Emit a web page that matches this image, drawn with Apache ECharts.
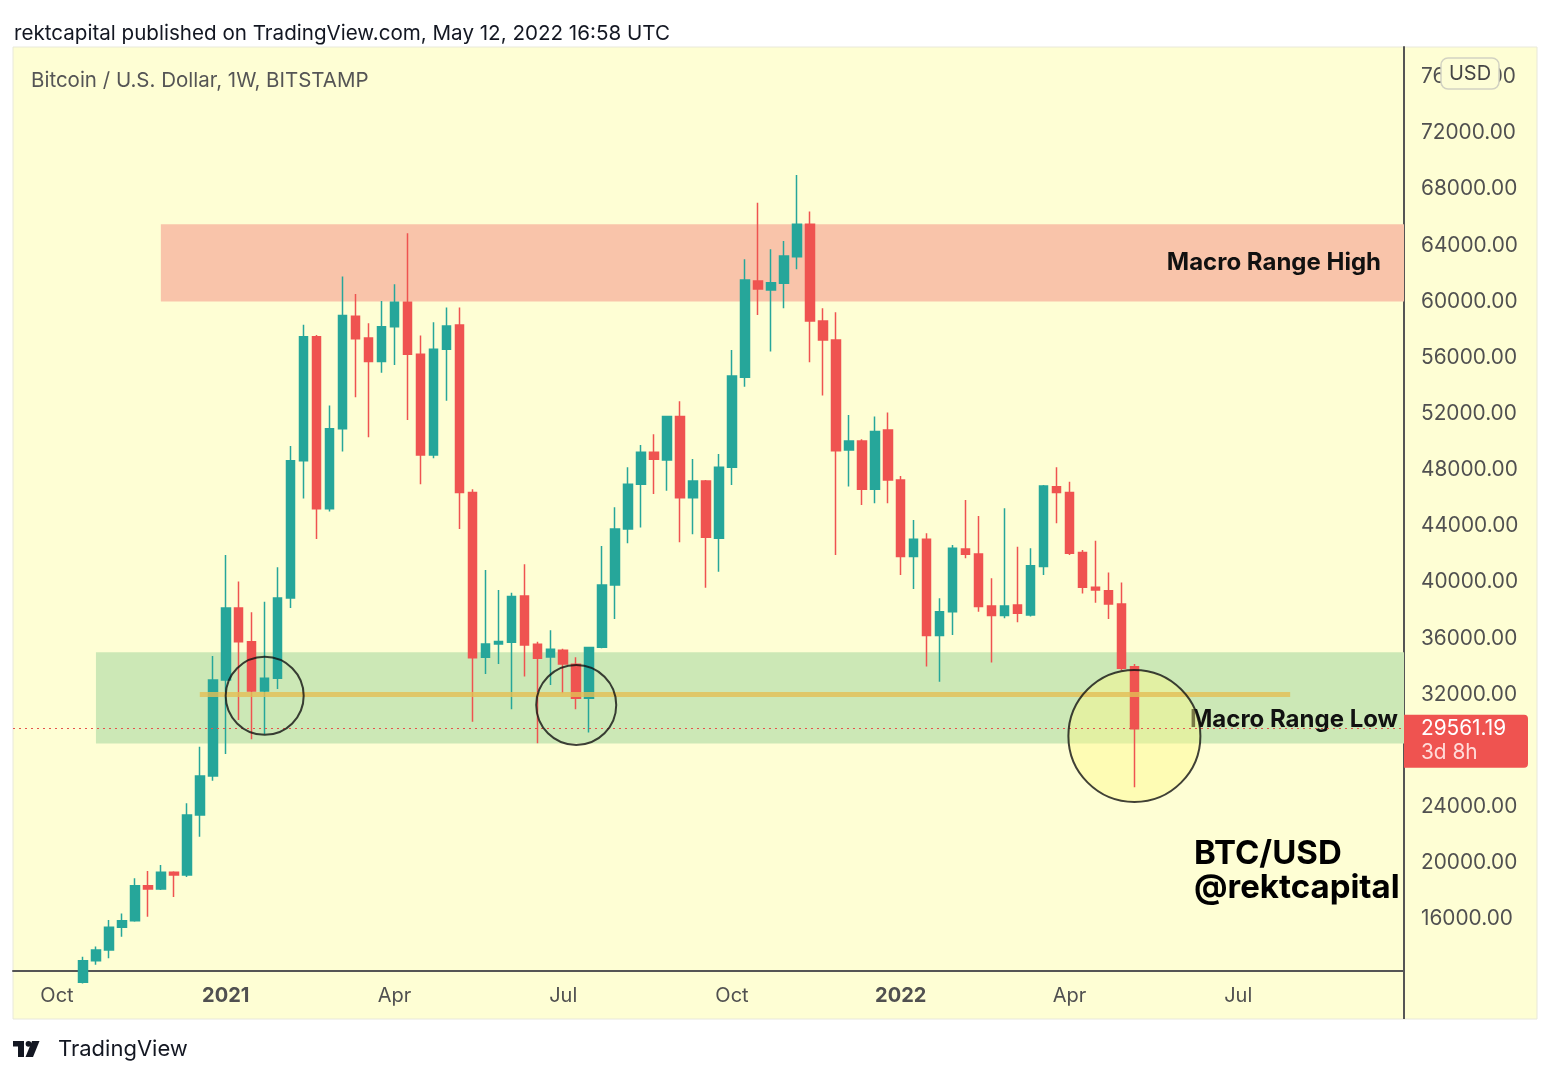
<!DOCTYPE html>
<html>
<head>
<meta charset="utf-8">
<title>Bitcoin / U.S. Dollar, 1W</title>
<script src="https://cdn.jsdelivr.net/npm/echarts@6/dist/echarts.min.js"></script>
<style>
  html, body { margin: 0; padding: 0; background: #ffffff; }
  #chart { width: 1555px; height: 1080px; }
</style>
</head>
<body>
<div id="chart"></div>
<script>
// weekly candles (week start, Monday)
const weeks = [
  '2020-10-19', '2020-10-26', '2020-11-02', '2020-11-09', '2020-11-16', '2020-11-23', '2020-11-30', '2020-12-07',
  '2020-12-14', '2020-12-21', '2020-12-28', '2021-01-04', '2021-01-11', '2021-01-18', '2021-01-25', '2021-02-01',
  '2021-02-08', '2021-02-15', '2021-02-22', '2021-03-01', '2021-03-08', '2021-03-15', '2021-03-22', '2021-03-29',
  '2021-04-05', '2021-04-12', '2021-04-19', '2021-04-26', '2021-05-03', '2021-05-10', '2021-05-17', '2021-05-24',
  '2021-05-31', '2021-06-07', '2021-06-14', '2021-06-21', '2021-06-28', '2021-07-05', '2021-07-12', '2021-07-19',
  '2021-07-26', '2021-08-02', '2021-08-09', '2021-08-16', '2021-08-23', '2021-08-30', '2021-09-06', '2021-09-13',
  '2021-09-20', '2021-09-27', '2021-10-04', '2021-10-11', '2021-10-18', '2021-10-25', '2021-11-01', '2021-11-08',
  '2021-11-15', '2021-11-22', '2021-11-29', '2021-12-06', '2021-12-13', '2021-12-20', '2021-12-27', '2022-01-03',
  '2022-01-10', '2022-01-17', '2022-01-24', '2022-01-31', '2022-02-07', '2022-02-14', '2022-02-21', '2022-02-28',
  '2022-03-07', '2022-03-14', '2022-03-21', '2022-03-28', '2022-04-04', '2022-04-11', '2022-04-18', '2022-04-25',
  '2022-05-02', '2022-05-09'
];
const opens = [
  11500, 13030, 13800, 15410, 15880, 18370, 18140, 19330,
  19140, 23420, 26190, 33030, 38150, 35750, 32250, 33150,
  38870, 48650, 57480, 45230, 50930, 58950, 57400, 55720,
  58200, 59940, 56230, 49060, 56590, 58320, 46380, 34650,
  35590, 35720, 39010, 35570, 34670, 35150, 34150, 31730,
  35360, 39800, 43790, 46970, 49250, 48710, 51800, 46020,
  47210, 43120, 48180, 54600, 61450, 60810, 61290, 63190,
  65500, 58610, 57250, 49420, 50060, 46620, 50840, 47280,
  41820, 43060, 36200, 37900, 42360, 42010, 38310, 37620,
  38370, 37660, 41120, 46800, 46380, 42120, 39640, 39390,
  38450, 33980
];
const closes = [
  13030, 13800, 15410, 15880, 18370, 18140, 19330, 19140,
  23420, 26190, 33030, 38150, 35750, 32250, 33150, 38870,
  48650, 57480, 45230, 50930, 59000, 57350, 55720, 58200,
  59940, 56230, 49060, 56590, 58250, 46380, 34620, 35590,
  35770, 38970, 35530, 34570, 35220, 34170, 31730, 35350,
  39800, 43790, 46970, 49250, 48750, 51800, 46020, 47210,
  43200, 48180, 54690, 61530, 60890, 61330, 63240, 65500,
  58610, 57250, 49370, 50060, 46620, 50730, 47280, 41820,
  43060, 36200, 37900, 42420, 41980, 38260, 37620, 38310,
  37780, 41170, 46850, 46380, 42060, 39640, 39440, 38450,
  33860, 29561.19
];
const lows = [
  11400, 12750, 13200, 14740, 15800, 16160, 18070, 17570,
  19000, 21870, 25850, 27750, 30180, 28800, 29180, 32390,
  38160, 45960, 43080, 45030, 49300, 53170, 50320, 54920,
  55470, 51550, 46980, 48820, 52930, 43790, 30060, 33460,
  34170, 30940, 33270, 28520, 32670, 32080, 30950, 29280,
  35300, 37370, 42770, 43890, 46280, 46520, 42840, 43410,
  39610, 40750, 46920, 53930, 59030, 56430, 59510, 62290,
  55670, 53300, 41930, 46810, 45500, 45620, 45620, 40510,
  39520, 33990, 32910, 36230, 41700, 37900, 34280, 37430,
  37140, 37550, 40510, 44190, 41930, 39200, 38540, 37380,
  33700, 25380
];
const highs = [
  13320, 14050, 15930, 16400, 18900, 19420, 19850, 19400,
  24240, 28280, 34740, 41930, 40040, 37850, 38610, 41060,
  49700, 58340, 57600, 52580, 61780, 60530, 58440, 60030,
  61220, 64850, 57570, 58510, 59560, 59560, 46620, 40870,
  39440, 39250, 41280, 35760, 36580, 35250, 34650, 35400,
  42580, 45340, 48180, 49770, 50530, 51860, 52890, 48780,
  47280, 49130, 56540, 63000, 67030, 63710, 64310, 69000,
  66400, 59510, 59230, 51910, 50180, 51800, 52080, 47560,
  44430, 43490, 38850, 42650, 45850, 44710, 40280, 45270,
  42530, 42420, 46920, 48180, 47160, 42290, 42950, 40690,
  39970, 34170
];

// time scale labels (week index from 2020-10-05) and price labels
const tickWeeks = [0, 13, 26, 39, 52, 65, 78, 91];
const tickLabels = ['Oct', '2021', 'Apr', 'Jul', 'Oct', '2022', 'Apr', 'Jul'];
const priceTicks = [16000, 20000, 24000, 28000, 32000, 36000, 40000, 44000, 48000, 52000, 56000, 60000, 64000, 68000, 72000, 76000];

// drawings
const rangeHigh = [60000, 65500];
const rangeHighFrom = '2020-11-30';
const rangeLow = [28500, 35000];
const rangeLowFrom = '2020-10-26';
const midLevel = 32000;
const midFrom = '2020-12-21';
const midTo = '2022-08-01';
const lastPrice = 29561.19;
const circleWeeks = ['2021-01-25', '2021-07-12', '2022-05-09'];
const circlePrices = [31900, 31250, 29040];
const circleSizes = [78, 80, 132];
const circleFills = ['rgba(0,0,0,0)', 'rgba(0,0,0,0)', 'rgba(255,250,140,0.55)'];

const FONT = 'Inter, "Noto Sans", sans-serif';
const BASE = Date.UTC(2020, 9, 5);
const weekIndex = d => Math.round((Date.parse(d + 'T00:00:00Z') - BASE) / (7 * 864e5));

const X_MIN = -3.39, X_MAX = 103.77;
const Y_MIN = 12297, Y_MAX = 78127;

const candles = weeks.map((w, i) => [weekIndex(w), opens[i], closes[i], lows[i], highs[i]]);
const circlePoints = circleWeeks.map((w, i) => [weekIndex(w), circlePrices[i], circleSizes[i]]);

const chart = echarts.init(document.getElementById('chart'));

const option = {
  animation: false,
  textStyle: { fontFamily: FONT },
  title: [
    {
      text: 'rektcapital published on TradingView.com, May 12, 2022 16:58 UTC',
      left: 9, top: 18,
      textStyle: { fontFamily: FONT, fontSize: 20.6, fontWeight: 'normal', color: '#131722' }
    },
    {
      text: 'Bitcoin / U.S. Dollar, 1W, BITSTAMP',
      left: 26, top: 65,
      textStyle: { fontFamily: FONT, fontSize: 20.5, fontWeight: 'normal', color: '#555555' }
    }
  ],
  grid: { left: 13, right: 151, top: 47, bottom: 109, containLabel: false },
  xAxis: {
    type: 'value',
    min: X_MIN,
    max: X_MAX,
    splitLine: { show: false },
    axisTick: { show: false },
    axisLine: { show: true, onZero: false, lineStyle: { color: '#555555', width: 2 } },
    axisLabel: {
      customValues: tickWeeks,
      margin: 15,
      fontSize: 20,
      color: '#505050',
      fontFamily: FONT,
      formatter: v => {
        const t = tickLabels[tickWeeks.indexOf(Math.round(v))] || '';
        return /^\d{4}$/.test(t) ? '{y|' + t + '}' : t;
      },
      rich: { y: { fontSize: 20, fontWeight: 'bold', color: '#505050', fontFamily: FONT } }
    }
  },
  yAxis: {
    type: 'value',
    position: 'right',
    min: Y_MIN,
    max: Y_MAX,
    splitLine: { show: false },
    axisTick: { show: false },
    axisLine: { show: true, onZero: false, lineStyle: { color: '#555555', width: 2 } },
    axisLabel: {
      customValues: priceTicks,
      margin: 17,
      fontSize: 20.8,
      color: '#505050',
      fontFamily: FONT,
      formatter: v => v.toFixed(2)
    }
  },
  series: [
    {
      // circle fills sit under the candles
      type: 'scatter',
      z: 1.5,
      silent: true,
      symbol: 'circle',
      data: circlePoints,
      symbolSize: p => p[2],
      itemStyle: { color: p => circleFills[p.dataIndex], borderWidth: 0 }
    },
    {
      type: 'candlestick',
      encode: { x: 0, y: [1, 2, 3, 4] },
      data: candles,
      barWidth: 9,
      itemStyle: {
        color: '#26A69A',
        color0: '#EF5350',
        borderColor: '#26A69A',
        borderColor0: '#EF5350',
        borderWidth: 1.5
      },
      markArea: {
        silent: true,
        data: [
          [
            {
              xAxis: weekIndex(rangeHighFrom), yAxis: rangeHigh[0],
              itemStyle: { color: '#F9C4AA' },
              label: {
                show: true, formatter: 'Macro Range High', position: 'insideRight', distance: 23,
                fontSize: 24, fontWeight: 'bold', color: '#111111', fontFamily: FONT
              }
            },
            { xAxis: X_MAX, yAxis: rangeHigh[1] }
          ],
          [
            {
              xAxis: weekIndex(rangeLowFrom), yAxis: rangeLow[0],
              itemStyle: { color: '#CCE8B6' },
              label: {
                show: true, formatter: 'Macro Range Low', position: 'insideRight', distance: 6,
                offset: [0, 22],
                fontSize: 24, fontWeight: 'bold', color: '#111111', fontFamily: FONT
              }
            },
            { xAxis: X_MAX, yAxis: rangeLow[1] }
          ]
        ]
      },
      markLine: {
        silent: true,
        symbol: ['none', 'none'],
        label: { show: false },
        data: [
          {
            yAxis: lastPrice,
            lineStyle: { color: '#E5534B', type: [2, 4], width: 1 }
          },
          [
            { coord: [weekIndex(midFrom), midLevel], lineStyle: { color: 'rgba(228,190,85,0.8)', width: 5, type: 'solid' } },
            { coord: [weekIndex(midTo), midLevel] }
          ]
        ]
      }
    },
    {
      // circle outlines on top
      type: 'scatter',
      z: 10,
      silent: true,
      symbol: 'circle',
      data: circlePoints,
      symbolSize: p => p[2],
      itemStyle: { color: 'rgba(0,0,0,0)', borderColor: '#111111', borderWidth: 2 }
    }
  ]
};

chart.setOption(option);

// price tag on the price scale, placed through the chart's own scales
const [tagX, tagY] = chart.convertToPixel({ gridIndex: 0 }, [X_MAX, lastPrice]);

chart.setOption({
  graphic: [
    {
      type: 'rect', z: -10, silent: true,
      shape: { x: 13, y: 47, width: 1524, height: 972 },
      style: { fill: '#FEFED4', stroke: '#E8E8DA', lineWidth: 1 }
    },
    {
      type: 'line', silent: true, z: 5,
      shape: { x1: tagX, y1: 971, x2: tagX, y2: 1019 },
      style: { stroke: '#555555', lineWidth: 2 }
    },
    {
      type: 'rect', silent: true, z: 20,
      shape: { x: tagX, y: tagY - 14, width: 124, height: 53, r: [0, 4, 4, 0] },
      style: { fill: '#EF5350' }
    },
    {
      type: 'text', silent: true, z: 21,
      x: tagX + 17, y: tagY,
      style: { text: lastPrice.toFixed(2), fill: '#ffffff', font: '20.8px ' + FONT, textVerticalAlign: 'middle' }
    },
    {
      type: 'text', silent: true, z: 21,
      x: tagX + 17, y: tagY + 24,
      style: { text: '3d 8h', fill: '#FFDCDA', font: '20.8px ' + FONT, textVerticalAlign: 'middle' }
    },
    {
      type: 'rect', silent: true, z: 20,
      shape: { x: 1441, y: 58, width: 58, height: 31, r: 7 },
      style: { fill: '#FDFDD6', stroke: '#D2D2C2', lineWidth: 1.5 }
    },
    {
      type: 'text', silent: true, z: 21,
      x: 1470, y: 73.5,
      style: { text: 'USD', fill: '#444444', font: '20px ' + FONT, textAlign: 'center', textVerticalAlign: 'middle' }
    },
    {
      type: 'text', silent: true, z: 21,
      x: 1194, y: 854,
      style: { text: 'BTC/USD', fill: '#000000', font: 'bold 33px ' + FONT, textVerticalAlign: 'middle' }
    },
    {
      type: 'text', silent: true, z: 21,
      x: 1194, y: 888,
      style: { text: '@rektcapital', fill: '#000000', font: 'bold 33px ' + FONT, textVerticalAlign: 'middle' }
    },
    // TradingView logo mark and name
    { type: 'rect', silent: true, shape: { x: 13, y: 1041, width: 11, height: 5.5 }, style: { fill: '#131722' } },
    { type: 'rect', silent: true, shape: { x: 18, y: 1041, width: 6, height: 16 }, style: { fill: '#131722' } },
    { type: 'circle', silent: true, shape: { cx: 28.5, cy: 1043.8, r: 2.9 }, style: { fill: '#131722' } },
    { type: 'polygon', silent: true, shape: { points: [[32, 1041], [39.5, 1041], [33, 1057], [25.5, 1057]] }, style: { fill: '#131722' } },
    {
      type: 'text', silent: true,
      x: 58, y: 1049,
      style: { text: 'TradingView', fill: '#131722', font: '22px ' + FONT, textVerticalAlign: 'middle' }
    }
  ]
});
</script>
</body>
</html>
